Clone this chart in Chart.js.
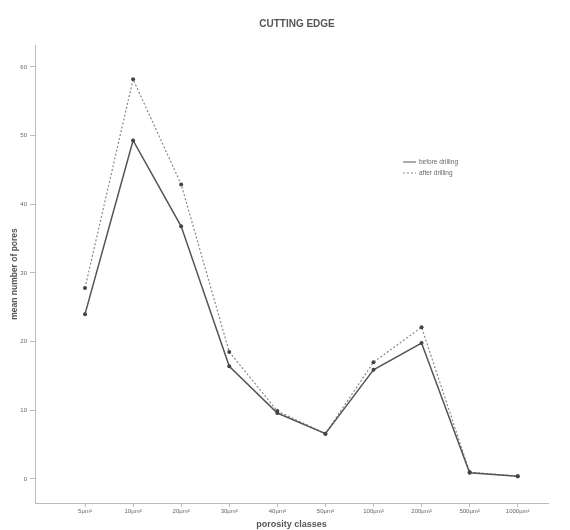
<!DOCTYPE html>
<html>
<head>
<meta charset="utf-8">
<script src="https://cdn.jsdelivr.net/npm/chart.js@4.4.1/dist/chart.umd.min.js"></script>
<style>
  html, body { margin: 0; padding: 0; background: #fff; }
</style>
</head>
<body>
<canvas id="pores-chart" width="570" height="530"></canvas>
<script>
'use strict';

// porosity classes along the x axis
var classes = ['5µm²', '10µm²', '20µm²', '30µm²', '40µm²', '50µm²', '100µm²', '200µm²', '500µm²', '1000µm²'];
// mean number of pores
var before = [24, 49.3, 36.8, 16.4, 9.6, 6.6, 15.9, 19.8, 0.9, 0.4];
var after = [27.8, 58.2, 42.9, 18.5, 9.9, 6.6, 17.0, 22.1, 1.0, 0.4];
var yTicks = [0, 10, 20, 30, 40, 50, 60];

var txt = '#666';
var axisCol = '#bbb';
var family = 'Liberation Sans, Arial, sans-serif';

function toPoints(arr) {
    return arr.map(function (v, i) { return { x: i + 1, y: v }; });
}

// title sits a bit right of centre, and the legend inside the plot
var decorations = {
    id: 'decorations',
    afterDatasetsDraw: function (chart) {
        var c = chart.ctx;
        c.save();
        c.fillStyle = '#555';
        c.font = 'bold 10px ' + family;
        c.textAlign = 'center';
        c.textBaseline = 'middle';
        c.fillText('CUTTING EDGE', 297, 24);
        c.restore();

        var x = 403, y = 162;
        chart.data.datasets.forEach(function (ds, i) {
            var yy = y + i * 11;
            c.save();
            c.strokeStyle = ds.borderColor;
            c.lineWidth = 1;
            c.setLineDash(ds.borderDash || []);
            c.beginPath();
            c.moveTo(x, yy);
            c.lineTo(x + 13, yy);
            c.stroke();
            c.setLineDash([]);
            c.fillStyle = txt;
            c.font = '6.5px ' + family;
            c.textBaseline = 'middle';
            c.fillText(ds.label, x + 16, yy);
            c.restore();
        });
    }
};

var ctx = document.getElementById('pores-chart');
var chart = new Chart(ctx, {
    type: 'line',
    data: {
        datasets: [
            {
                label: 'before drilling',
                data: toPoints(before),
                borderColor: '#555',
                backgroundColor: '#444',
                borderWidth: 1.5,
                pointRadius: 2,
                pointBorderWidth: 0,
                tension: 0
            },
            {
                label: 'after drilling',
                data: toPoints(after),
                borderColor: '#888',
                backgroundColor: '#444',
                borderWidth: 1.2,
                borderDash: [2, 2],
                pointRadius: 2,
                pointBorderWidth: 0,
                tension: 0
            }
        ]
    },
    options: {
        responsive: false,
        animation: false,
        devicePixelRatio: 1,
        layout: { padding: { left: 0, right: 22, top: 45, bottom: 0 } },
        plugins: {
            legend: { display: false },
            tooltip: { enabled: false },
            title: { display: false }
        },
        scales: {
            x: {
                type: 'linear',
                min: -0.04,
                max: 10.63,
                afterBuildTicks: function (axis) {
                    axis.ticks = classes.map(function (c, i) { return { value: i + 1 }; });
                },
                afterFit: function (axis) { axis.height = 27; },
                grid: { drawOnChartArea: false, drawTicks: true, tickLength: 4, color: axisCol },
                border: { display: true, color: axisCol },
                ticks: {
                    color: txt,
                    font: { family: family, size: 6 },
                    padding: 1,
                    maxRotation: 0,
                    autoSkip: false,
                    callback: function (v) { return classes[v - 1]; }
                },
                title: {
                    display: true,
                    text: 'porosity classes',
                    color: '#555',
                    font: { family: family, size: 9, weight: 'bold' },
                    padding: { top: 0, bottom: 0 }
                }
            },
            y: {
                min: -3.5,
                max: 63.2,
                afterBuildTicks: function (axis) {
                    axis.ticks = yTicks.map(function (v) { return { value: v }; });
                },
                afterFit: function (axis) { axis.width = 35; },
                grid: { drawOnChartArea: false, drawTicks: true, tickLength: 5, color: axisCol },
                border: { display: true, color: axisCol },
                ticks: { color: txt, font: { family: family, size: 6 }, padding: 3 },
                title: {
                    display: true,
                    text: 'mean number of pores',
                    color: '#555',
                    font: { family: family, size: 8.5, weight: 'bold' },
                    padding: { top: 10, bottom: 0 }
                }
            }
        }
    },
    plugins: [decorations]
});
</script>
</body>
</html>
